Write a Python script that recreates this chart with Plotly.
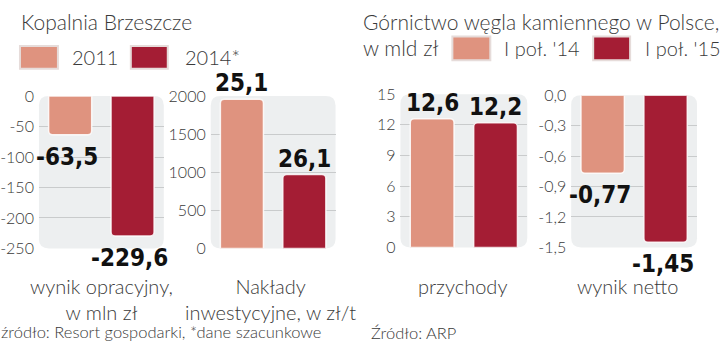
import plotly.graph_objects as go

# ---- data ----
cats = [0, 1]
series_names_left = ["2011", "2014*"]
series_names_right = ["I poł. '14", "I poł. '15"]
wynik_operacyjny = [-63.5, -229.6]
wynik_operacyjny_txt = ["-63,5", "-229,6"]
naklady = [1960, 970]
naklady_txt = ["25,1", "26,1"]
przychody = [12.6, 12.2]
przychody_txt = ["12,6", "12,2"]
wynik_netto = [-0.77, -1.45]
wynik_netto_txt = ["-0,77", "-1,45"]

ticks1 = [0, -50, -100, -150, -200, -250]
ticks2 = [0, 500, 1000, 1500, 2000]
ticks3 = [0, 3, 6, 9, 12, 15]
ticks4 = [0, -0.3, -0.6, -0.9, -1.2, -1.5]
ticks4_txt = ["0,0", "-0,3", "-0,6", "-0,9", "-1,2", "-1,5"]

cat_labels = ["wynik opracyjny,<br>w mln zł", "Nakłady<br>inwestycyjne, w zł/t", "przychody", "wynik netto"]

LIGHT = "#DF937F"
DARK = "#A41D34"
W, H = 720, 352
TXT = "#3a3a3a"
LF = "Lato"
TICKFONT = dict(family=LF, size=16, color=TXT, weight=300)
VALFONT = dict(family="DejaVu Sans Condensed", size=24, color="#111", weight="bold")
LBLFONT = dict(family=LF, size=20, color=TXT, weight=300)
TITLEFONT = dict(family=LF, size=21, color=TXT, weight=300)

def px_x(a, b):
    return [a / W, b / W]

def px_y(top, bottom):
    return [1 - bottom / H, 1 - top / H]

panels = [
    dict(vals=wynik_operacyjny, txt=wynik_operacyjny_txt, xd=px_x(38, 163), yd=px_y(91, 252),
         rng=[-250, 0], tv=ticks1, tt=[str(t) for t in ticks1], lbl=cat_labels[0], lblshift=0),
    dict(vals=naklady, txt=naklady_txt, xd=px_x(210, 335), yd=px_y(91, 252),
         rng=[0, 2000], tv=ticks2, tt=[str(t) for t in ticks2], lbl=cat_labels[1], lblshift=-3),
    dict(vals=przychody, txt=przychody_txt, xd=px_x(400, 527), yd=px_y(89, 251),
         rng=[0, 15], tv=ticks3, tt=[str(t) for t in ticks3], lbl=cat_labels[2], lblshift=-1),
    dict(vals=wynik_netto, txt=wynik_netto_txt, xd=px_x(571, 697), yd=px_y(90, 251),
         rng=[-1.5, 0], tv=ticks4, tt=ticks4_txt, lbl=cat_labels[3], lblshift=-7),
]

fig = go.Figure()
annotations = []
shapes = []

for i, p in enumerate(panels):
    n = "" if i == 0 else str(i + 1)
    xa, ya = "x" + n, "y" + n
    fig.add_trace(go.Bar(
        x=cats, y=p["vals"], xaxis=xa, yaxis=ya,
        marker=dict(color=[LIGHT, DARK], cornerradius=4,
                    line=dict(color="rgba(255,255,255,0.85)", width=1.5)),
        width=0.69, showlegend=False, hoverinfo="skip",
    ))
    fig.layout["xaxis" + n] = dict(domain=p["xd"], range=[-0.5, 1.5], anchor=ya,
                                   showticklabels=False, showgrid=False, zeroline=False,
                                   fixedrange=True)
    fig.layout["yaxis" + n] = dict(domain=p["yd"], range=p["rng"], anchor=xa,
                                   tickvals=p["tv"], ticktext=p["tt"], tickfont=TICKFONT,
                                   showgrid=True, gridcolor="#c9cbcc", gridwidth=1,
                                   zeroline=False, ticks="", ticklabelstandoff=4,
                                   fixedrange=True)
    # rounded background panel
    r = 10
    w_px = (p["xd"][1] - p["xd"][0]) * W
    h_px = (p["yd"][1] - p["yd"][0]) * H
    rx, ry = r / w_px, r / h_px
    path = (f"M {rx},0 L {1-rx},0 Q 1,0 1,{ry} L 1,{1-ry} Q 1,1 {1-rx},1 "
            f"L {rx},1 Q 0,1 0,{1-ry} L 0,{ry} Q 0,0 {rx},0 Z")
    shapes.append(dict(type="path", path=path, xref=xa + " domain", yref=ya + " domain",
                       fillcolor="#edeff0", line=dict(width=0), layer="below"))
    # value labels
    for c, v, t in zip(cats, p["vals"], p["txt"]):
        annotations.append(dict(x=c, y=v, xref=xa, yref=ya, text=t, showarrow=False,
                                font=VALFONT, yanchor="bottom" if v > 0 else "top",
                                yshift=-6 if v < 0 else 0, xshift=-3 if v < 0 else 0))
    # category label
    annotations.append(dict(x=0.5, y=1 - 277 / H, xref=xa + " domain", yref="paper",
                            yanchor="top", text=p["lbl"],
                            showarrow=False, font=LBLFONT, xshift=p["lblshift"]))

# titles
annotations.append(dict(x=18 / W, y=1 - 12 / H, xref="paper", yref="paper", xanchor="left",
                        yanchor="middle", text="Kopalnia Brzeszcze", showarrow=False, font=TITLEFONT))
annotations.append(dict(x=360 / W, y=1 - 12 / H, xref="paper", yref="paper", xanchor="left",
                        yanchor="middle", text="Górnictwo węgla kamiennego w Polsce,",
                        showarrow=False, font=TITLEFONT))
annotations.append(dict(x=361 / W, y=1 - 40 / H, xref="paper", yref="paper", xanchor="left",
                        yanchor="middle", text="w mld zł", showarrow=False, font=TITLEFONT))

# legends (swatches + text)
LEGFONT = dict(family=LF, size=20, color=TXT, weight=300)
leg = [
    (19, 57, 38, 62, LIGHT, 69, series_names_left[0]),
    (130, 167, 38, 62, DARK, 182, series_names_left[1]),
    (452, 490, 28, 53, LIGHT, 502, series_names_right[0]),
    (593, 630, 28, 53, DARK, 643, series_names_right[1]),
]
for x0, x1, y0, y1, col, tx, label in leg:
    shapes.append(dict(type="rect", xref="paper", yref="paper",
                       x0=x0 / W, x1=x1 / W, y0=1 - y1 / H, y1=1 - y0 / H,
                       fillcolor=col, line=dict(color="#e6dcda", width=2)))
    annotations.append(dict(x=tx / W, y=1 - ((y0 + y1) / 2) / H, xref="paper", yref="paper",
                            xanchor="left", yanchor="middle", text=label, showarrow=False,
                            font=LEGFONT))

# sources
SRCFONT = dict(family=LF, size=16.5, color=TXT, weight=300)
annotations.append(dict(x=-2 / W, y=1 - 340 / H, xref="paper", yref="paper", xanchor="left",
                        yanchor="middle", text="źródło: Resort gospodarki, *dane szacunkowe",
                        showarrow=False, font=SRCFONT))
annotations.append(dict(x=369 / W, y=1 - 341 / H, xref="paper", yref="paper", xanchor="left",
                        yanchor="middle", text="Źródło: ARP", showarrow=False, font=SRCFONT))

fig.update_layout(width=W, height=H, margin=dict(l=0, r=0, t=0, b=0),
                  paper_bgcolor="white", plot_bgcolor="rgba(0,0,0,0)",
                  annotations=annotations, shapes=shapes, bargap=0.3, showlegend=False)

fig.write_html("out.html", config={"displayModeBar": False})
